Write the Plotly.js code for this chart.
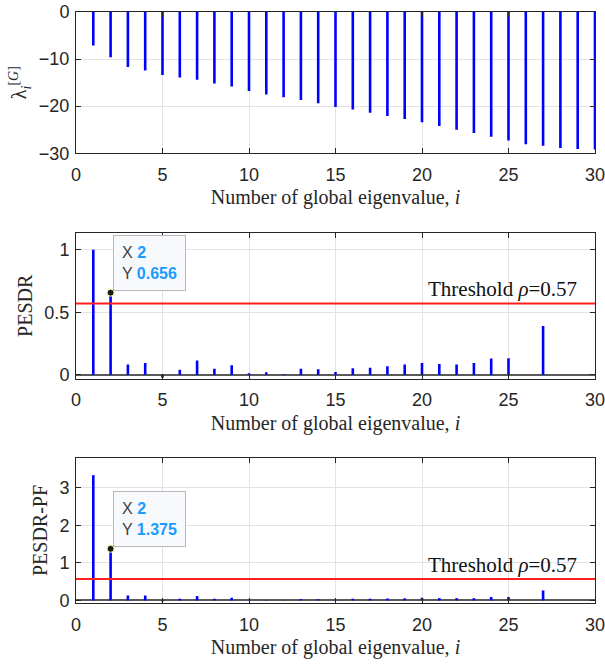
<!DOCTYPE html>
<html><head><meta charset="utf-8">
<script src="https://cdn.plot.ly/plotly-3.0.1.min.js"></script>
<style>html,body{margin:0;padding:0;background:#fff}</style>
</head><body><div id="chart" style="width:605px;height:666px"></div>
<script>
// ---- data ----
const eigIndex = [1,2,3,4,5,6,7,8,9,10,11,12,13,14,15,16,17,18,19,20,21,22,23,24,25,26,27,28,29,30];
const lambdaG = [-7.1,-9.6,-11.7,-12.4,-13.4,-13.9,-14.4,-15.2,-15.8,-16.8,-17.5,-18.1,-18.7,-19.4,-20.2,-20.7,-21.4,-22.1,-22.7,-23.4,-24.2,-25.0,-25.7,-26.5,-27.3,-28.1,-28.4,-28.9,-29.1,-29.2];
const pesdr = [1.0,0.656,0.081,0.094,-0.025,0.04,0.113,0.048,0.075,0.011,0.019,0.005,0.048,0.043,0.022,0.051,0.056,0.067,0.081,0.094,0.086,0.081,0.094,0.129,0.132,null,0.39,null,null,null];
const pesdrPF = [3.34,1.375,0.13,0.13,-0.03,0.044,0.115,0.044,0.07,0.015,0.01,0.005,0.035,0.03,0.02,0.045,0.045,0.05,0.055,0.07,0.06,0.06,0.06,0.09,0.09,null,0.265,null,null,null];
const threshold = 0.57;
const tipX = 2;
const tipPesdr = 0.656;
const tipPF = 1.375;
const xTicks = [0,5,10,15,20,25,30];
const yTicksTop = [-30,-20,-10,0];
const yTicksMid = [0,0.5,1];
const yTicksBot = [0,1,2,3];
const xTitle = 'Number of global eigenvalue, <i>i</i>';

// ---- style ----
const AX = '#262626';
const sans = 'Liberation Sans, Arial, sans-serif';
const serif = 'Liberation Serif, Times New Roman, serif';
const stemColor = '#0000ff';
const stemW = 0.15;

function xa(anchor){
  return {anchor:anchor, range:[0,30], tickvals:xTicks, ticks:'inside', ticklen:5, tickcolor:AX,
    showline:true, linecolor:AX, linewidth:1, mirror:'ticks', showgrid:true, gridcolor:'#e3e3e3',
    zeroline:false, ticklabeloverflow:'allow', ticklabelstandoff:5,
    tickfont:{family:sans,size:18,color:AX},
    title:{text:xTitle, font:{family:serif,size:20,color:AX}, standoff:6}};
}
function ya(anchor, range, ticks, domain, title, zl, tsize){
  return {anchor:anchor, range:range, tickvals:ticks, domain:domain, ticks:'inside', ticklen:5, tickcolor:AX,
    showline:true, linecolor:AX, linewidth:1, mirror:'ticks', showgrid:true, gridcolor:'#e3e3e3',
    zeroline:zl, zerolinecolor:'#5a5a5a', zerolinewidth:2, ticklabeloverflow:'allow', ticklabelstandoff:2,
    tickfont:{family:sans,size:18,color:AX},
    title:{text:title, font:{family:serif,size:tsize,color:AX}, standoff:6}};
}

const traces = [
  {type:'bar', x:eigIndex, y:lambdaG, width:stemW, marker:{color:stemColor}, xaxis:'x', yaxis:'y', hoverinfo:'x+y'},
  {type:'bar', x:eigIndex, y:pesdr, width:stemW, marker:{color:stemColor}, xaxis:'x2', yaxis:'y2', hoverinfo:'x+y'},
  {type:'bar', x:eigIndex, y:pesdrPF, width:stemW, marker:{color:stemColor}, xaxis:'x3', yaxis:'y3', hoverinfo:'x+y'},
  {type:'scatter', mode:'markers', x:[tipX], y:[tipPesdr], xaxis:'x2', yaxis:'y2',
    marker:{color:'#1a1a1a', size:7, line:{color:'#ffff99', width:1}}, hoverinfo:'skip'},
  {type:'scatter', mode:'markers', x:[tipX], y:[tipPF], xaxis:'x3', yaxis:'y3',
    marker:{color:'#1a1a1a', size:7, line:{color:'#ffff99', width:1}}, hoverinfo:'skip'}
];

function tip(xr, yr, xv, yv){
  return {xref:xr, yref:yr, x:xv, y:yv, xanchor:'left', yanchor:'bottom', xshift:2, yshift:2,
    showarrow:false, align:'left', bgcolor:'#f8f9fd', bordercolor:'#b8b8b8', borderwidth:1, borderpad:8,
    font:{family:sans, size:16, color:'#404040'},
    text:'X <b><span style="color:#1a9bff">'+xv+'</span></b><br>Y <b><span style="color:#1a9bff">'+yv+'</span></b>'};
}
function thrLabel(xr, yr){
  return {xref:xr, yref:yr, x:29.1, y:threshold, xanchor:'right', yanchor:'bottom', yshift:0,
    showarrow:false, text:'Threshold <i>ρ</i>=0.57', font:{family:serif, size:21, color:'#111'}};
}

const layout = {
  width:605, height:666, margin:{l:76, r:10, t:12, b:62.5},
  paper_bgcolor:'#fff', plot_bgcolor:'#fff', showlegend:false, barmode:'overlay',
  xaxis:xa('y'), xaxis2:xa('y2'), xaxis3:xa('y3'),
  yaxis:ya('x', [-30,0], yTicksTop, [0.761,1], 'λ<sub><i>i</i></sub><sup>[<i>G</i>]</sup>', false, 20),
  yaxis2:ya('x2', [-0.032,1.135], yTicksMid, [0.3795,0.6264], 'PESDR', true, 20),
  yaxis3:ya('x3', [-0.07,3.8], yTicksBot, [0,0.2455], 'PESDR-PF', true, 20),
  shapes:[
    {type:'line', xref:'x2 domain', yref:'y2', x0:0, x1:1, y0:threshold, y1:threshold, line:{color:'#ff1f1f', width:2}},
    {type:'line', xref:'x3 domain', yref:'y3', x0:0, x1:1, y0:threshold, y1:threshold, line:{color:'#ff1f1f', width:2}}
  ],
  annotations:[
    thrLabel('x2','y2'), thrLabel('x3','y3'),
    tip('x2','y2', tipX, tipPesdr), tip('x3','y3', tipX, tipPF)
  ]
};
Plotly.newPlot('chart', traces, layout, {displayModeBar:false, staticPlot:true});
</script></body></html>
